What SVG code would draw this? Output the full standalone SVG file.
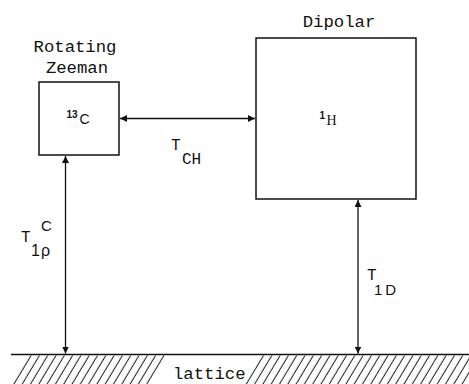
<svg xmlns="http://www.w3.org/2000/svg" width="469" height="384" viewBox="0 0 469 384">
<style>
.box{fill:#fff;stroke:#111;stroke-width:1.5}
.lbl{font-family:"Liberation Mono","DejaVu Sans Mono",monospace;font-size:17.3px;fill:#111}
.sym{font-family:"Liberation Mono","DejaVu Sans Mono",monospace;font-size:16px;fill:#111}
.sup{font-family:"Liberation Sans",Arial,sans-serif;font-size:10px;fill:#111;font-weight:bold}
.conn{stroke:#111;stroke-width:1.3;fill:none}
</style>
<defs>
<marker id="ah" viewBox="0 0 10 10" refX="10" refY="5" markerWidth="7" markerHeight="7" markerUnits="userSpaceOnUse" orient="auto-start-reverse">
<path d="M0,0 L10,5 L0,10 z" fill="#111"/>
</marker>
<pattern id="hatch" patternUnits="userSpaceOnUse" width="8.3" height="10" patternTransform="skewX(-31)">
<line x1="4" y1="-1" x2="4" y2="11" stroke="#111" stroke-width="1.1"/>
</pattern>
</defs>
<rect width="469" height="384" fill="#fff"/>
<g id="lattice">
<polygon points="28,355.5 168,355.5 151,384 11,384" fill="url(#hatch)"/>
<polygon points="262,355.5 469,355.5 469,384 245,384" fill="url(#hatch)"/>
<line x1="11" y1="354.5" x2="469" y2="354.5" stroke="#111" stroke-width="1.5"/>
<text class="lbl" x="173" y="379">lattice</text>
</g>
<g id="carbon">
<rect class="box" x="39" y="82" width="80" height="73"/>
<text class="lbl" x="75" y="52" text-anchor="middle">Rotating</text>
<text class="lbl" x="77" y="72.5" text-anchor="middle">Zeeman</text>
<text class="sup" x="66.5" y="118">13</text>
<text x="79.5" y="123.5" font-family="Liberation Sans,Arial,sans-serif" font-size="14" fill="#111">C</text>
</g>
<g id="proton">
<rect class="box" x="256" y="38" width="160" height="161"/>
<text class="lbl" x="339" y="26.5" text-anchor="middle">Dipolar</text>
<text class="sup" x="319.5" y="118.5">1</text>
<text x="326.5" y="125" font-family="Liberation Serif,serif" font-size="14" fill="#111">H</text>
</g>
<g id="connectors">
<line class="conn" x1="120" y1="118.5" x2="255" y2="118.5" marker-start="url(#ah)" marker-end="url(#ah)"/>
<line class="conn" x1="65.5" y1="156" x2="65.5" y2="353.5" marker-start="url(#ah)" marker-end="url(#ah)"/>
<line class="conn" x1="358" y1="200" x2="358" y2="353.5" marker-start="url(#ah)" marker-end="url(#ah)"/>
<text class="sym" x="171" y="150">T</text>
<text class="sym" x="182" y="164">CH</text>
<text class="sym" x="21" y="242">T</text>
<text x="31" y="256" font-family="Liberation Sans,Arial,sans-serif" font-size="16" fill="#111" letter-spacing="1">1ρ</text>
<text x="41" y="231" font-family="Liberation Sans,Arial,sans-serif" font-size="15" fill="#111">C</text>
<text class="sym" x="367" y="280">T</text>
<text x="374" y="295" font-family="Liberation Sans,Arial,sans-serif" font-size="15" fill="#111" letter-spacing="3">1D</text>
</g>
</svg>
